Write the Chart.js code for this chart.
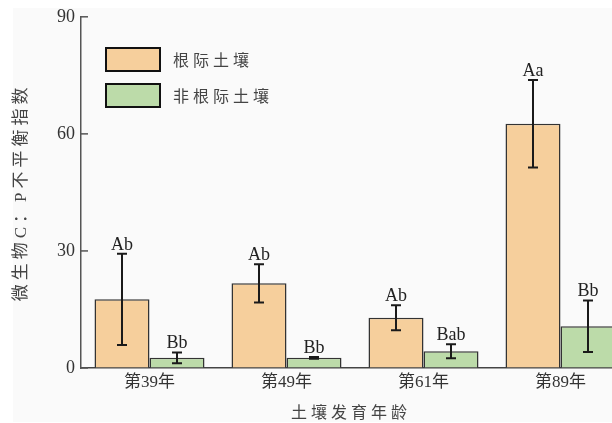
<!DOCTYPE html>
<html>
<head>
<meta charset="utf-8">
<script src="https://cdn.jsdelivr.net/npm/chart.js@4.4.1/dist/chart.umd.min.js"></script>
<style>
  html, body { margin: 0; padding: 0; background: #ffffff; overflow: hidden; }
  #wrap { width: 612px; height: 423px; overflow: hidden; position: relative; }
  canvas { display: block; }
</style>
</head>
<body>
<div id="wrap"><canvas id="c" width="640" height="423"></canvas></div>
<script>
// Soil development age groups
const categories = ['第39年', '第49年', '第61年', '第89年'];
const seriesNames = ['根际土壤', '非根际土壤'];
// Microbial C:P imbalance index, mean and standard deviation
const rhizoMean = [17.6, 21.7, 12.9, 62.6];
const rhizoSd = [11.7, 4.9, 3.2, 11.2];
const bulkMean = [2.6, 2.6, 4.3, 10.7];
const bulkSd = [1.4, 0.2, 1.8, 6.6];
// Significance letters
const rhizoLetters = ['Ab', 'Ab', 'Ab', 'Aa'];
const bulkLetters = ['Bb', 'Bb', 'Bab', 'Bb'];
const yTicks = [0, 30, 60, 90];
const xTitle = '土壤发育年龄';
const yTitle = '微生物C：P不平衡指数';

const colors = ['#f6cf9c', '#bcdba9'];
const serifFont = '"Liberation Serif", "Noto Sans CJK SC", serif';
const cjkFont = '"Noto Sans CJK SC", "Liberation Serif", sans-serif';

const decor = {
  id: 'decor',
  beforeDraw(chart) {
    const ctx = chart.ctx;
    ctx.save();
    ctx.fillStyle = '#ffffff';
    ctx.fillRect(0, 0, chart.width, chart.height);
    ctx.fillStyle = '#fafafa';
    ctx.fillRect(13, 8, chart.width - 13, 414);
    ctx.restore();
  },
  afterDatasetsDraw(chart) {
    const ctx = chart.ctx;
    const y = chart.scales.y;
    const area = chart.chartArea;
    const sets = [[rhizoMean, rhizoSd, rhizoLetters], [bulkMean, bulkSd, bulkLetters]];
    ctx.save();
    // error bars and letters
    sets.forEach(([means, sds, letters], di) => {
      const meta = chart.getDatasetMeta(di);
      meta.data.forEach((bar, i) => {
        const x = bar.x;
        const top = y.getPixelForValue(means[i] + sds[i]);
        const bot = y.getPixelForValue(means[i] - sds[i]);
        ctx.strokeStyle = '#1a1a1a';
        ctx.lineWidth = 2;
        ctx.beginPath();
        ctx.moveTo(x, top); ctx.lineTo(x, bot);
        ctx.moveTo(x - 5, top); ctx.lineTo(x + 5, top);
        ctx.moveTo(x - 5, bot); ctx.lineTo(x + 5, bot);
        ctx.stroke();
        ctx.fillStyle = '#222';
        ctx.font = '18px ' + serifFont;
        ctx.textAlign = 'center';
        ctx.textBaseline = 'alphabetic';
        ctx.fillText(letters[i], x, top - 4);
      });
    });
    // inward tick marks on the value axis
    ctx.strokeStyle = '#555';
    ctx.lineWidth = 1.5;
    yTicks.forEach(v => {
      const py = y.getPixelForValue(v);
      ctx.beginPath();
      ctx.moveTo(area.left, py);
      ctx.lineTo(area.left + 7, py);
      ctx.stroke();
    });
    // legend
    const lx = 106, ly = [48, 84];
    seriesNames.forEach((name, i) => {
      ctx.fillStyle = colors[i];
      ctx.fillRect(lx, ly[i], 54, 23);
      ctx.strokeStyle = '#111';
      ctx.lineWidth = 2;
      ctx.strokeRect(lx, ly[i], 54, 23);
      ctx.fillStyle = '#444';
      ctx.font = '16px ' + cjkFont;
      ctx.textAlign = 'left';
      ctx.textBaseline = 'middle';
      ctx.letterSpacing = '4px';
      ctx.fillText(name, 173, ly[i] + 12);
      ctx.letterSpacing = '0px';
    });
    // axis titles
    ctx.fillStyle = '#444';
    ctx.font = '16px ' + cjkFont;
    ctx.textBaseline = 'middle';
    ctx.textAlign = 'center';
    ctx.letterSpacing = '4px';
    ctx.fillText(xTitle, 351, 412);
    ctx.translate(22, (area.top + area.bottom) / 2);
    ctx.rotate(-Math.PI / 2);
    ctx.font = '17px ' + serifFont;
    ctx.letterSpacing = '4px';
    ctx.fillText(yTitle, 0, 0);
    ctx.letterSpacing = '0px';
    ctx.restore();
  }
};

new Chart(document.getElementById('c'), {
  type: 'bar',
  data: {
    labels: categories,
    datasets: [
      { label: seriesNames[0], data: rhizoMean, backgroundColor: colors[0], borderColor: '#333', borderWidth: 1.5 },
      { label: seriesNames[1], data: bulkMean, backgroundColor: colors[1], borderColor: '#333', borderWidth: 1.5 }
    ]
  },
  options: {
    responsive: false,
    animation: false,
    devicePixelRatio: 1,
    layout: { padding: { left: 0, right: 11, top: 16, bottom: 0 } },
    datasets: { bar: { barPercentage: 1, categoryPercentage: 0.803 } },
    plugins: { legend: { display: false }, tooltip: { enabled: false } },
    scales: {
      x: {
        grid: { drawOnChartArea: false, drawTicks: false },
        border: { color: '#444', width: 1.5 },
        ticks: { color: '#333', padding: 4, font: { size: 17, family: serifFont } },
        afterFit(s) { s.height = 55; }
      },
      y: {
        min: 0, max: 90,
        afterBuildTicks(s) { s.ticks = yTicks.map(v => ({ value: v })); },
        grid: { drawOnChartArea: false, drawTicks: false },
        border: { color: '#555', width: 1.5 },
        ticks: { color: '#333', padding: 6, font: { size: 18, family: serifFont } },
        afterFit(s) { s.width = 81; }
      }
    }
  },
  plugins: [decor]
});
</script>
</body>
</html>
